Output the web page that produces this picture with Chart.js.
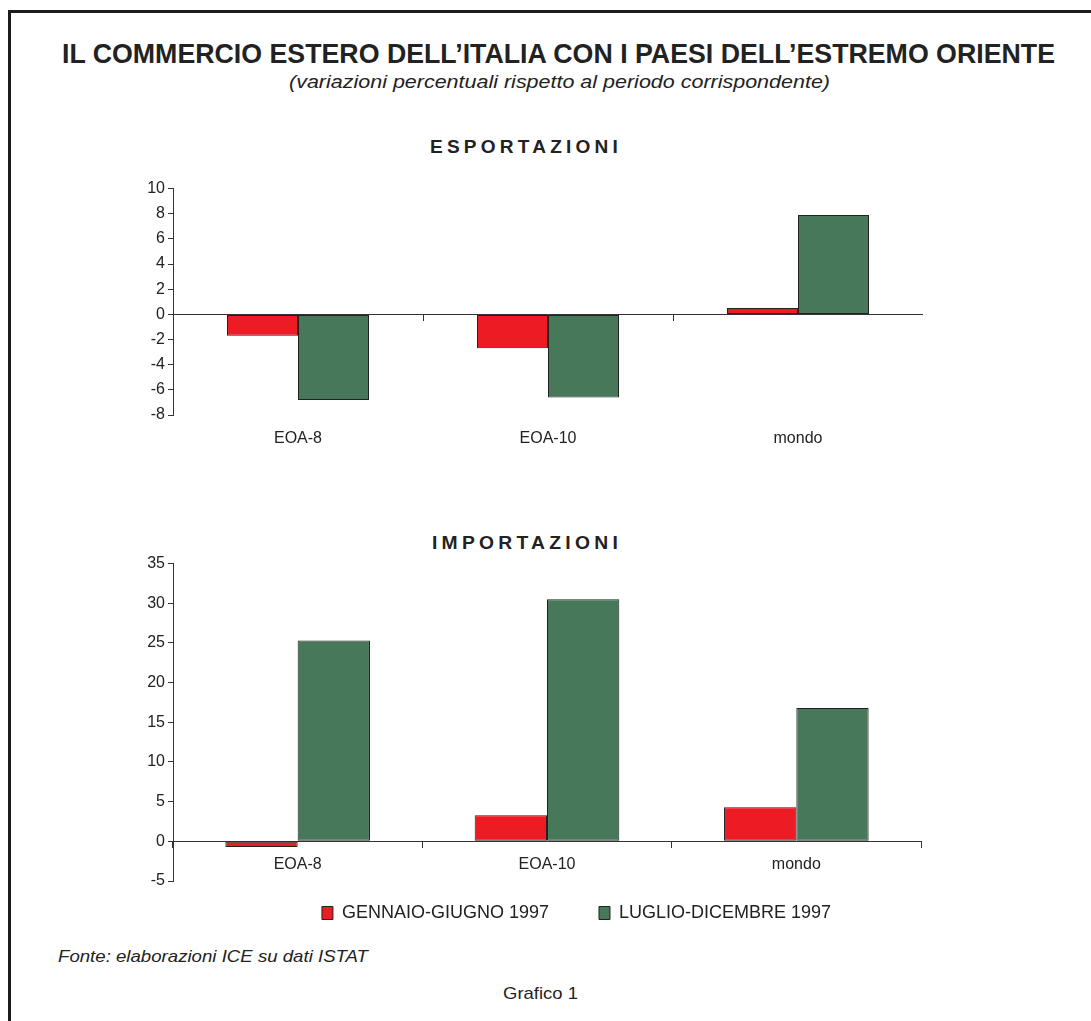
<!DOCTYPE html>
<html>
<head>
<meta charset="utf-8">
<script src="https://cdn.jsdelivr.net/npm/chart.js@4.4.1/dist/chart.umd.min.js"></script>
<style>
body { margin: 0; background: #fff; font-family: "Liberation Sans", Arial, sans-serif; color: #222; }
#page { position: relative; width: 1091px; height: 1021px; overflow: hidden; }
#frame { position: absolute; left: 8px; top: 10px; width: 1200px; height: 1200px; border-left: 3px solid #1c1c1c; border-top: 3px solid #1c1c1c; }
.txt { position: absolute; white-space: nowrap; transform-origin: 0 0; }
canvas { position: absolute; }
#c1 { left: 100px; top: 176px; }
#c2 { left: 100px; top: 551px; }
</style>
</head>
<body>
<div id="page">
  <div id="frame"></div>
  <!-- cx = centre x, w = width to fit, base = baseline y, size = font size -->
  <div class="txt" data-cx="558.5" data-w="993" data-base="64" data-size="28" style="font-weight:bold">IL COMMERCIO ESTERO DELL’ITALIA CON I PAESI DELL’ESTREMO ORIENTE</div>
  <div class="txt" data-cx="559" data-w="541" data-base="88.5" data-size="19" style="font-style:italic">(variazioni percentuali rispetto al periodo corrispondente)</div>
  <div class="txt" data-cx="526" data-w="192" data-base="153" data-size="18" style="font-weight:bold;letter-spacing:0.22em">ESPORTAZIONI</div>
  <div class="txt" data-cx="527" data-w="190" data-base="549" data-size="18" style="font-weight:bold;letter-spacing:0.22em">IMPORTAZIONI</div>
  <div class="txt" data-left="58" data-w="310" data-base="962" data-size="17" style="font-style:italic">Fonte: elaborazioni ICE su dati ISTAT</div>
  <div class="txt" data-cx="540.5" data-w="75" data-base="999" data-size="17">Grafico 1</div>
  <canvas id="c1" width="823" height="284"></canvas>
  <canvas id="c2" width="953" height="381"></canvas>
</div>
<script>
// data
var categories = ['EOA-8', 'EOA-10', 'mondo'];
var seriesNames = ['GENNAIO-GIUGNO 1997', 'LUGLIO-DICEMBRE 1997'];
var expFirstHalf = [-1.7, -2.7, 0.5];
var expSecondHalf = [-6.8, -6.6, 7.9];
var impFirstHalf = [-0.7, 3.3, 4.3];
var impSecondHalf = [25.3, 30.5, 16.8];
var expTicks = [-8, 10, 2]; // min, max, step
var impTicks = [-5, 35, 5];

var colRed = '#ED1C24';
var colGreen = '#48785A';
var ink = '#222';

// place the html texts: scale them to the measured width
document.querySelectorAll('.txt').forEach(function (el) {
    var size = parseFloat(el.dataset.size);
    el.style.fontSize = size + 'px';
    el.style.lineHeight = size + 'px';
    el.style.top = (parseFloat(el.dataset.base) - 0.8465 * size) + 'px';
    var w0 = el.getBoundingClientRect().width;
    var w = parseFloat(el.dataset.w);
    el.style.transform = 'scaleX(' + (w / w0) + ')';
    var left = el.dataset.left ? parseFloat(el.dataset.left) : parseFloat(el.dataset.cx) - w / 2;
    el.style.left = left + 'px';
});

function datasets(first, second) {
    return [
        { label: seriesNames[0], data: first, backgroundColor: colRed, borderColor: ink, borderWidth: 1, borderSkipped: false, xAxisID: 'x' },
        { label: seriesNames[1], data: second, backgroundColor: colGreen, borderColor: ink, borderWidth: 1, borderSkipped: false, xAxisID: 'x' }
    ];
}

function yScale(t) {
    return {
        position: 'left',
        min: t[0], max: t[1],
        afterFit: function (s) { s.width = 73; },
        border: { color: '#333', width: 1 },
        grid: { drawOnChartArea: false, drawTicks: true, tickLength: 5, color: '#333' },
        ticks: { stepSize: t[2], padding: 3, color: ink, font: { family: 'Liberation Sans', size: 16 } }
    };
}

Chart.defaults.font.family = 'Liberation Sans';

// ESPORTAZIONI: axis line at zero, labels under the plot
new Chart(document.getElementById('c1'), {
    type: 'bar',
    data: { labels: categories, datasets: datasets(expFirstHalf, expSecondHalf) },
    options: {
        responsive: false,
        animation: false,
        layout: { padding: { top: 10, right: 0, left: 0, bottom: 0 } },
        datasets: { bar: { categoryPercentage: 0.568, barPercentage: 1 } },
        plugins: { legend: { display: false }, tooltip: { enabled: false } },
        scales: {
            y: yScale(expTicks),
            x: {
                position: { y: 0 },
                offset: true,
                border: { color: '#333', width: 1 },
                grid: { offset: true, drawOnChartArea: false, drawTicks: true, tickLength: 6, color: '#333' },
                ticks: { display: false }
            },
            x2: {
                type: 'category',
                labels: categories,
                position: 'bottom',
                offset: true,
                afterFit: function (s) { s.height = 45; },
                border: { display: false },
                grid: { display: false, drawTicks: false },
                ticks: { padding: 14, color: ink, font: { size: 16 } }
            }
        }
    }
});

// IMPORTAZIONI: labels next to the zero line, legend below
new Chart(document.getElementById('c2'), {
    type: 'bar',
    data: { labels: categories, datasets: datasets(impFirstHalf, impSecondHalf) },
    options: {
        responsive: false,
        animation: false,
        layout: { padding: { top: 10, right: 0, left: 0, bottom: 0 } },
        datasets: { bar: { categoryPercentage: 0.58, barPercentage: 1 } },
        plugins: {
            tooltip: { enabled: false },
            legend: {
                position: 'bottom',
                labels: {
                    boxWidth: 11, boxHeight: 13, padding: 10, color: ink,
                    font: { size: 18 },
                    generateLabels: function (chart) {
                        var items = Chart.defaults.plugins.legend.labels.generateLabels(chart);
                        items.forEach(function (it, i) {
                            it.lineWidth = 1;
                            it.strokeStyle = ink;
                            if (i === 0) it.text = it.text + '\u00a0\u00a0\u00a0\u00a0\u00a0\u00a0\u00a0\u00a0';
                        });
                        return items;
                    }
                }
            }
        },
        scales: {
            y: yScale(impTicks),
            yR: {
                type: 'linear',
                position: 'right',
                afterFit: function (s) { s.width = 132; },
                border: { display: false },
                grid: { display: false },
                ticks: { display: false }
            },
            x: {
                position: { y: 0 },
                offset: true,
                border: { color: '#333', width: 1 },
                grid: { offset: true, drawOnChartArea: false, drawTicks: true, tickLength: 6, color: '#333' },
                ticks: { padding: 8, color: ink, font: { size: 16 } }
            },
            xPad: {
                type: 'category',
                labels: categories,
                position: 'bottom',
                afterFit: function (s) { s.height = 13; },
                border: { display: false },
                grid: { display: false },
                ticks: { display: false }
            }
        }
    }
});
</script>
</body>
</html>
